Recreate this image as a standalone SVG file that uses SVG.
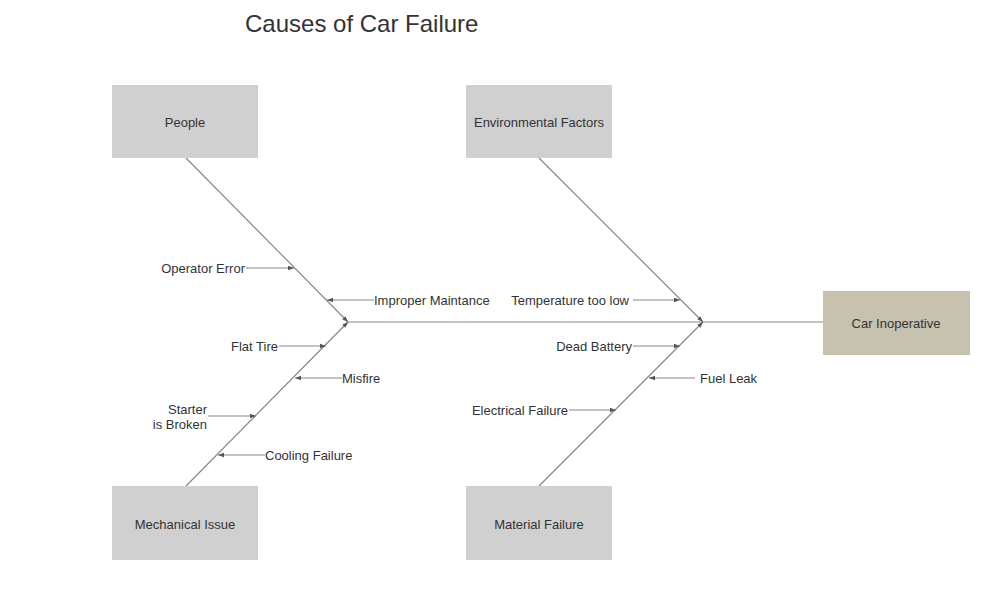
<svg xmlns="http://www.w3.org/2000/svg" width="988" height="596" viewBox="0 0 988 596">
<style>
.box{fill:#d0d0d0}
.eff{fill:#c7c1af}
.lbl{font-family:"Liberation Sans",Arial,sans-serif;font-size:13px;fill:#333}
.title{font-family:"Liberation Sans",Arial,sans-serif;font-size:24px;fill:#333}
.ln{stroke:#888;stroke-width:1.2;fill:none}
.ar{stroke:#888;stroke-width:1.2;fill:none;marker-end:url(#ah)}
</style>
<defs>
<marker id="ah" viewBox="0 0 8 8" refX="8" refY="4" markerWidth="6" markerHeight="6" markerUnits="userSpaceOnUse" orient="auto">
<path d="M0,1 L8,4 L0,7 Z" fill="#555"/>
</marker>
</defs>
<rect width="988" height="596" fill="#fff"/>
<text class="title" x="245" y="32">Causes of Car Failure</text>

<g id="connectors">
<line class="ln" x1="348" y1="322" x2="823" y2="322"/>
<path class="ar" d="M186,158 L348,322"/>
<path class="ar" d="M186,486 L348,322"/>
<path class="ar" d="M539,158 L703,322"/>
<path class="ar" d="M539,486 L703,322"/>
<path class="ar" d="M246,268 L294,268"/>
<path class="ar" d="M374,300 L327,300"/>
<path class="ar" d="M279,346 L326,346"/>
<path class="ar" d="M342,378 L295,378"/>
<path class="ar" d="M208,416 L256,416"/>
<path class="ar" d="M265,455 L218,455"/>
<path class="ar" d="M633,300 L680,300"/>
<path class="ar" d="M633,346 L680,346"/>
<path class="ar" d="M695,378 L649,378"/>
<path class="ar" d="M569,410 L616,410"/>
</g>

<g id="people"><rect class="box" x="112" y="85" width="146" height="73"/><text class="lbl" x="185" y="127" text-anchor="middle">People</text></g>
<g id="environmental"><rect class="box" x="466" y="85" width="146" height="73"/><text class="lbl" x="539" y="127" text-anchor="middle">Environmental Factors</text></g>
<g id="mechanical"><rect class="box" x="112" y="486" width="146" height="74"/><text class="lbl" x="185" y="528.5" text-anchor="middle">Mechanical Issue</text></g>
<g id="material"><rect class="box" x="466" y="486" width="146" height="74"/><text class="lbl" x="539" y="528.5" text-anchor="middle">Material Failure</text></g>
<g id="effect"><rect class="eff" x="823" y="291" width="147" height="64"/><text class="lbl" x="896" y="327.5" text-anchor="middle">Car Inoperative</text></g>

<g id="causes">
<text class="lbl" x="245" y="272.5" text-anchor="end">Operator Error</text>
<text class="lbl" x="374" y="304.5">Improper Maintance</text>
<text class="lbl" x="278" y="350.5" text-anchor="end">Flat Tire</text>
<text class="lbl" x="342" y="382.5">Misfire</text>
<text class="lbl" x="207" y="413.5" text-anchor="end">Starter</text>
<text class="lbl" x="207" y="428.5" text-anchor="end">is Broken</text>
<text class="lbl" x="265" y="459.5">Cooling Failure</text>
<text class="lbl" x="629" y="304.5" text-anchor="end">Temperature too low</text>
<text class="lbl" x="632" y="350.5" text-anchor="end">Dead Battery</text>
<text class="lbl" x="700" y="382.5">Fuel Leak</text>
<text class="lbl" x="568" y="414.5" text-anchor="end">Electrical Failure</text>
</g>
</svg>
